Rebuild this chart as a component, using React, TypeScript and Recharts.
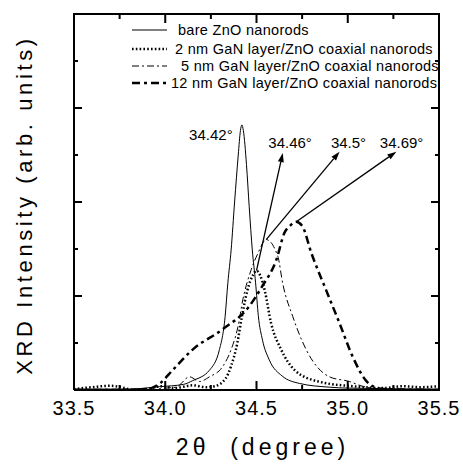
import React from 'react';
import { LineChart, Line, XAxis, YAxis, ReferenceLine, ReferenceDot, Label } from 'recharts';

const FONT = '"Liberation Sans", Arial, Helvetica, sans-serif';

const seriesNames = [
  'bare ZnO nanorods',
  '2 nm GaN layer/ZnO coaxial nanorods',
  '5 nm GaN layer/ZnO coaxial nanorods',
  '12 nm GaN layer/ZnO coaxial nanorods',
];

// bare ZnO nanorods (solid thin)
const bareX = [33.5, 33.8, 33.968, 34.1, 34.151, 34.242, 34.297, 34.328, 34.343, 34.361, 34.38, 34.4, 34.412, 34.42, 34.428, 34.445, 34.46, 34.477, 34.495, 34.51, 34.533, 34.57, 34.64, 34.735, 34.9, 35.0, 35.5];
const bareY = [0.01, 0.01, 0.035, 0.06, 0.1, 0.21, 0.43, 0.78, 1.14, 1.49, 2.0, 2.5, 2.76, 2.82, 2.76, 2.4, 1.95, 1.49, 1.14, 0.79, 0.53, 0.32, 0.15, 0.07, 0.03, 0.02, 0.01];

// 2 nm GaN (dotted)
const gan2X = [33.5, 33.6, 33.7, 33.76, 33.82, 33.9, 33.98, 34.05, 34.15, 34.22, 34.27, 34.33, 34.36, 34.395, 34.42, 34.45, 34.48, 34.5, 34.52, 34.545, 34.58, 34.635, 34.71, 34.84, 35.06, 35.2, 35.3, 35.4, 35.5];
const gan2Y = [0.01, 0.03, 0.045, 0.03, 0.0, 0.01, 0.04, 0.02, 0.05, 0.03, 0.04, 0.12, 0.25, 0.5, 0.78, 1.06, 1.22, 1.27, 1.22, 1.06, 0.71, 0.43, 0.21, 0.09, 0.035, 0.02, 0.04, 0.03, 0.04];

// 5 nm GaN (thin dash-dot)
const gan5X = [33.5, 33.9, 34.0, 34.06, 34.133, 34.188, 34.242, 34.315, 34.361, 34.398, 34.425, 34.471, 34.507, 34.553, 34.617, 34.644, 34.699, 34.772, 34.9, 35.01, 35.08, 35.2, 35.5];
const gan5Y = [0.0, 0.0, 0.02, 0.03, 0.14, 0.09, 0.14, 0.25, 0.43, 0.67, 0.96, 1.28, 1.45, 1.6, 1.42, 1.13, 0.78, 0.43, 0.14, 0.09, 0.04, 0.01, 0.0];

// 12 nm GaN (thick dash-dot)
const gan12X = [33.5, 33.7, 33.9, 33.97, 34.04, 34.15, 34.31, 34.46, 34.53, 34.608, 34.655, 34.68, 34.718, 34.752, 34.8, 34.882, 34.955, 35.028, 35.1, 35.136, 35.2, 35.5];
const gan12Y = [0.0, 0.0, 0.01, 0.07, 0.21, 0.43, 0.64, 0.89, 1.1, 1.38, 1.68, 1.74, 1.79, 1.74, 1.46, 1.06, 0.71, 0.35, 0.1, 0.04, 0.01, 0.0];

const xTicks = [33.5, 33.75, 34.0, 34.25, 34.5, 34.75, 35.0, 35.25, 35.5];
const xTickLabels = ['33.5', '34.0', '34.5', '35.0', '35.5'];
const yTicks = [0, 0.5, 1, 1.5, 2, 2.5, 3, 3.5, 4];
const X_MIN = 33.5;
const X_MAX = 35.5;
const Y_MIN = 0;
const Y_MAX = 4;

const peakLabels = ['34.42°', '34.46°', '34.5°', '34.69°'];
const peakLabelX = [34.25, 34.684, 35.004, 35.295];
const peakLabelY = [2.71, 2.63, 2.63, 2.63];

const arrowFromX = [34.5, 34.553, 34.718];
const arrowFromY = [1.27, 1.6, 1.79];
const arrowToX = [34.644, 34.955, 35.266];
const arrowToY = [2.52, 2.535, 2.535];

const build = (xs: number[], ys: number[]) => xs.map((x, i) => ({ x, y: ys[i] }));
const bareData = build(bareX, bareY);
const gan2Data = build(gan2X, gan2Y);
const gan5Data = build(gan5X, gan5Y);
const gan12Data = build(gan12X, gan12Y);

const styles = [
  { strokeWidth: 1, dash: undefined as string | undefined },
  { strokeWidth: 2.5, dash: '1.6 2.2' },
  { strokeWidth: 1, dash: '7 3 2 3' },
  { strokeWidth: 2.5, dash: '8 4 3 4' },
];

// chart layout
const W = 463;
const H = 464;
const MARGIN = { top: 14, right: 24, bottom: 0, left: 0 };
const Y_AXIS_W = 74;
const X_AXIS_H = 74;
const PLOT_L = MARGIN.left + Y_AXIS_W;
const PLOT_R = W - MARGIN.right;
const PLOT_T = MARGIN.top;
const PLOT_B = H - MARGIN.bottom - X_AXIS_H;

const isMajorX = (v: number) => Math.abs(v * 2 - Math.round(v * 2)) < 1e-6;
const isMajorY = (v: number) => Math.abs(v - Math.round(v)) < 1e-6;

const okNum = (...vs: any[]) => vs.every((v) => typeof v === 'number' && !isNaN(v));

const BottomTick = (props: any) => {
  const { x, y, payload } = props;
  const v = payload.value;
  const major = isMajorX(v);
  const len = major ? 9 : 5;
  const idx = Math.round((v - 33.5) * 2);
  return (
    <g>
      <line x1={x} y1={y} x2={x} y2={y - len} stroke="#000" strokeWidth={2} />
      {major && (
        <text x={x} y={y + 25} textAnchor="middle" fontFamily={FONT} fontSize={20} letterSpacing={1} fill="#000">
          {xTickLabels[idx]}
        </text>
      )}
    </g>
  );
};

const LeftTick = (props: any) => {
  const { x, y, payload } = props;
  const len = isMajorY(payload.value) ? 8 : 4;
  return <line x1={x} y1={y} x2={x + len} y2={y} stroke="#000" strokeWidth={2} />;
};

const ArrowShape = (props: any) => {
  const { x1, y1, x2, y2 } = props;
  if (!okNum(x1, y1, x2, y2)) return <g />;
  const ang = Math.atan2(y2 - y1, x2 - x1);
  const L = 9;
  const Wd = 3;
  const bx = x2 - L * Math.cos(ang);
  const by = y2 - L * Math.sin(ang);
  const px = -Math.sin(ang) * Wd;
  const py = Math.cos(ang) * Wd;
  return (
    <g>
      <line x1={x1} y1={y1} x2={bx} y2={by} stroke="#000" strokeWidth={1.3} />
      <polygon points={`${x2},${y2} ${bx + px},${by + py} ${bx - px},${by - py}`} fill="#000" />
    </g>
  );
};

const XTitle = (props: any) => {
  const vb = props.viewBox || { x: 0, y: 390, width: 463, height: 74 };
  return (
    <text x={vb.x + vb.width / 2 + 6} y={vb.y + 65} textAnchor="middle" fontFamily={FONT} fontSize={23} letterSpacing={4} fill="#000">
      {'2θ\u00a0\u00a0(degree)'}
    </text>
  );
};

const YTitle = (props: any) => {
  const vb = props.viewBox || { x: 0, y: 14, width: 74, height: 376 };
  const cx = 32;
  const cy = vb.y + vb.height / 2 + 3;
  return (
    <text x={cx} y={cy} transform={`rotate(-90, ${cx}, ${cy})`} textAnchor="middle" fontFamily={FONT} fontSize={22} letterSpacing={3.6} fill="#000">
      XRD Intensity (arb. units)
    </text>
  );
};

const legendTextX = [178, 175, 181, 171];
const legendRowY = [30, 49, 66, 83];

const xToPx = (v: number) => PLOT_L + ((v - X_MIN) / (X_MAX - X_MIN)) * (PLOT_R - PLOT_L);
const yToPx = (v: number) => PLOT_B - ((v - Y_MIN) / (Y_MAX - Y_MIN)) * (PLOT_B - PLOT_T);

// Top/right frame as a CSS box so it is always drawn
const FrameBox = () => (
  <div
    style={{
      position: 'absolute',
      left: PLOT_L - 1,
      top: PLOT_T - 1,
      width: PLOT_R - PLOT_L,
      height: PLOT_B - PLOT_T,
      borderTop: '2px solid #000',
      borderRight: '2px solid #000',
      boxSizing: 'content-box',
      pointerEvents: 'none',
    }}
  />
);

const Overlay = () => (
  <svg width={W} height={H} style={{ position: 'absolute', left: 0, top: 0, pointerEvents: 'none', overflow: 'visible' }}>
    {xTicks.map((t) => (
      <rect key={'tt' + t} x={xToPx(t) - 1} y={PLOT_T} width={2} height={isMajorX(t) ? 9 : 5} fill="#000" />
    ))}
    {yTicks.map((t) => (
      <rect key={'rt' + t} x={PLOT_R - (isMajorY(t) ? 8 : 4)} y={yToPx(t) - 1} width={isMajorY(t) ? 8 : 4} height={2} fill="#000" />
    ))}
    {seriesNames.map((name, i) => (
      <g key={name}>
        <line x1={132} y1={legendRowY[i]} x2={167} y2={legendRowY[i]} stroke="#000" strokeWidth={styles[i].strokeWidth} strokeDasharray={styles[i].dash} />
        <text x={legendTextX[i]} y={legendRowY[i] + 5} fontFamily={FONT} fontSize={14.5} letterSpacing={0.3} fill="#000">
          {name}
        </text>
      </g>
    ))}
  </svg>
);

export default function App() {
  const datasets = [bareData, gan2Data, gan5Data, gan12Data];
  return (
    <div style={{ position: 'absolute', left: 0, top: 0, width: W, height: H, background: '#fff' }}>
      <LineChart width={W} height={H} margin={MARGIN}>
        <XAxis
          xAxisId="bottom"
          dataKey="x"
          type="number"
          domain={[X_MIN, X_MAX]}
          ticks={xTicks}
          interval={0}
          allowDataOverflow
          height={X_AXIS_H}
          tickSize={0}
          tickMargin={0}
          tickLine={false}
          tick={<BottomTick />}
          axisLine={{ stroke: '#000', strokeWidth: 2 }}
          label={<Label content={<XTitle />} />}
        />
        <YAxis
          yAxisId="left"
          type="number"
          domain={[Y_MIN, Y_MAX]}
          ticks={yTicks}
          interval={0}
          allowDataOverflow
          width={Y_AXIS_W}
          tickSize={0}
          tickMargin={0}
          tickLine={false}
          tick={<LeftTick />}
          axisLine={{ stroke: '#000', strokeWidth: 2 }}
          label={<Label content={<YTitle />} />}
        />
        {datasets.map((d, i) => (
          <Line
            key={seriesNames[i]}
            xAxisId="bottom"
            yAxisId="left"
            data={d}
            dataKey="y"
            name={seriesNames[i]}
            type="monotone"
            stroke="#000"
            strokeWidth={styles[i].strokeWidth}
            strokeDasharray={styles[i].dash}
            dot={false}
            activeDot={false}
            isAnimationActive={false}
          />
        ))}
        {arrowFromX.map((fx, i) => (
          <ReferenceLine
            key={'arrow' + i}
            xAxisId="bottom"
            yAxisId="left"
            segment={[{ x: fx, y: arrowFromY[i] }, { x: arrowToX[i], y: arrowToY[i] }]}
            stroke="#000"
            shape={<ArrowShape />}
            ifOverflow="visible"
          />
        ))}
        {peakLabels.map((t, i) => (
          <ReferenceDot
            key={'pl' + i}
            xAxisId="bottom"
            yAxisId="left"
            x={peakLabelX[i]}
            y={peakLabelY[i]}
            r={0}
            ifOverflow="visible"
            shape={(p: any) => (
              <text x={p.cx} y={p.cy + 5} textAnchor="middle" fontFamily={FONT} fontSize={15} fill="#000">
                {t}
              </text>
            )}
          />
        ))}
      </LineChart>
      <FrameBox />
      <Overlay />
    </div>
  );
}
